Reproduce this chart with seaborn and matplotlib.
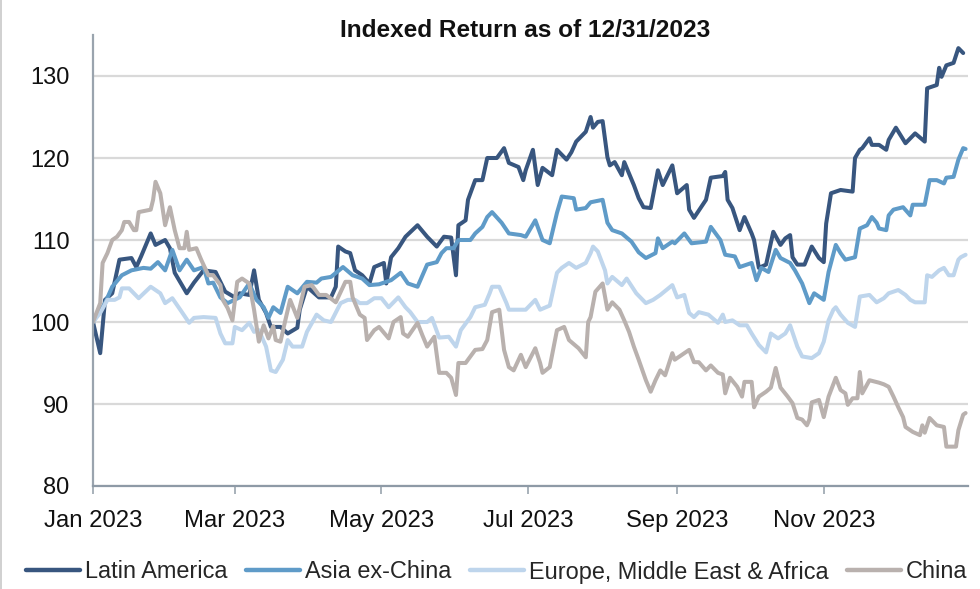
import numpy as np
import pandas as pd
import matplotlib
matplotlib.use("Agg")
import matplotlib.pyplot as plt
import seaborn as sns

# ---------------- data (days since 2023-01-01, indexed value) ----------------
series_names = ["Latin America", "Asia ex-China", "Europe, Middle East & Africa", "China"]

latam_day = [0, 3, 5, 8, 11, 16, 18, 20, 24, 26, 30, 32, 34, 39, 42, 46, 51, 55, 59,
             61, 65, 67, 69, 72, 74, 78, 81, 85, 86, 89, 94, 99, 101, 102, 105, 107, 109, 112, 115, 117,
             121, 122, 124, 127, 130, 135, 139, 143, 146, 149, 151, 152, 155, 156, 159, 162, 164, 168,
             171, 173, 177, 179, 180, 183, 185, 187, 191, 193, 197, 199, 201, 205, 207, 208, 210, 212,
             214, 215, 217, 220, 221, 225, 227, 229, 232, 235, 237, 241, 243, 247, 248, 250, 255, 257,
             262, 263, 264, 266, 269, 271, 274, 275, 277, 280, 283, 286, 288, 290, 291, 293, 296, 299,
             302, 304, 305, 307, 311, 316, 317, 319, 320, 323, 324, 327, 330, 331, 334, 338, 342, 346,
             347, 351, 352, 353, 355, 358, 360, 362]
latam_val = [100.0, 96.2, 102.7, 103.5, 107.6, 107.8, 106.7, 108.0, 110.8, 109.4, 110.0, 109.0, 106.0,
             103.5, 104.8, 106.3, 106.1, 103.7, 103.0,
             103.5, 103.3, 106.3, 102.7, 101.1, 99.4, 99.4, 98.6, 99.3, 101.5, 104.3, 103.0, 103.0, 104.3,
             109.2, 108.6, 108.4, 106.3, 105.7, 104.7, 106.7,
             107.2, 104.7, 107.9, 109.0, 110.4, 111.8, 110.4, 109.2, 110.4, 110.3, 105.7, 111.8, 112.4,
             114.9, 117.3, 117.3, 120.0, 120.0,
             121.2, 119.4, 118.9, 117.3, 118.5, 121.0, 116.7, 118.8, 117.9, 121.0, 119.8, 120.7, 122.0,
             123.2, 125.0, 123.7, 124.4, 124.5,
             120.1, 119.1, 119.5, 117.9, 119.5, 116.7, 115.1, 114.0, 113.9, 118.5, 116.7, 119.1, 115.7,
             116.7, 113.7, 112.7, 114.9, 117.6,
             117.8, 118.3, 114.9, 113.9, 111.2, 112.8, 110.8, 110.0, 106.6, 107.0, 111.0, 109.4, 110.2,
             110.6, 107.9, 107.0, 107.0, 109.2,
             107.8, 107.3, 112.0, 115.7, 116.1, 115.9, 120.0, 121.0, 121.2, 122.4, 121.6, 121.6, 121.0,
             122.2, 123.7, 121.8, 123.0, 122.0,
             128.5, 128.9, 131.0, 129.9, 131.3, 131.6, 133.4, 132.8]

asia_day = [0, 5, 8, 12, 16, 21, 24, 27, 30, 33, 36, 39, 42, 46, 48, 50, 53, 56, 61, 65, 68, 71, 73,
            75, 78, 81, 85, 89, 93, 95, 99, 104, 108, 112, 115, 119, 124, 128, 131, 135, 139, 143, 145,
            147, 150, 152, 157, 159, 162, 164, 166, 170, 173, 178, 180, 184, 187, 190, 193, 195, 200,
            201, 205, 207, 212, 214, 216, 220, 224, 227, 230, 234, 235, 237, 241, 242, 246, 249, 255,
            257, 261, 263, 267, 269, 274, 276, 278, 281, 284, 286, 290, 292, 295, 298, 300, 303, 304,
            306, 309, 311, 313, 317, 319, 322, 324, 326, 327, 330, 331, 333, 337, 340, 341, 346, 348,
            351, 354, 355, 358, 360, 362, 363]
asia_val = [100.0, 102.3, 104.3, 105.7, 106.3, 106.6, 106.5, 107.3, 106.3, 108.8, 106.3, 107.6, 106.3,
            106.7, 104.7, 104.8, 103.0, 102.3, 103.0, 104.7, 102.7, 101.8, 100.5,
            101.8, 101.1, 104.3, 103.5, 104.9, 104.8, 105.3, 105.5, 106.7, 105.7, 105.3, 104.5, 104.6,
            105.1, 106.0, 104.7, 104.3, 107.0, 107.3, 108.4,
            109.0, 109.0, 110.0, 110.0, 110.8, 111.6, 112.8, 113.4, 112.1, 110.8, 110.6, 110.4, 112.4,
            110.0, 109.6, 113.3, 115.3, 115.1,
            113.7, 113.9, 114.6, 114.9, 112.1, 111.2, 110.8, 109.8, 108.5, 107.8, 108.4, 110.2, 109.0,
            109.8, 109.6, 110.8, 109.6, 109.8,
            111.6, 110.0, 108.2, 108.0, 106.7, 107.2, 105.1, 106.6, 106.1, 108.8, 107.8, 107.2, 106.3,
            104.7, 102.3, 103.5, 102.9, 102.7,
            106.1, 109.4, 108.4, 107.6, 107.9, 111.4, 111.8, 112.8, 112.1, 111.4, 111.2, 113.0, 113.7,
            114.0, 113.0, 114.3, 114.3, 117.3,
            117.3, 116.9, 117.6, 117.7, 119.8, 121.2, 121.1]

emea_day = [0, 3, 6, 9, 11, 12, 15, 19, 24, 28, 30, 33, 37, 40, 42, 46, 51, 53, 55, 58, 59, 62, 65,
            67, 69, 72, 74, 76, 79, 81, 83, 87, 89, 93, 96, 99, 103, 106, 109, 111, 114, 117, 120, 123,
            127, 130, 132, 135, 139, 141, 144, 148, 151, 153, 157, 159, 163, 165, 166, 169, 172, 173,
            180, 184, 186, 190, 193, 195, 198, 201, 205, 207, 208, 210, 213, 214, 216, 220, 222, 226,
            230, 233, 236, 241, 243, 246, 248, 250, 252, 256, 260, 262, 263, 266, 269, 272, 274, 277,
            280, 282, 285, 288, 290, 293, 295, 299, 302, 304, 306, 308, 309, 311, 314, 317, 319, 323,
            326, 329, 331, 335, 338, 340, 342, 346, 347, 349, 352, 354, 356, 358, 360, 361, 363]
emea_val = [100.0, 101.1, 102.7, 102.7, 103.0, 104.1, 104.1, 102.9, 104.3, 103.5, 102.3, 102.9, 101.2,
            99.9, 100.5, 100.6, 100.5, 98.6, 97.4, 97.4, 99.4, 99.0, 99.9,
            98.8, 99.0, 97.0, 94.1, 93.9, 95.4, 97.8, 97.0, 97.0, 98.8, 100.9, 100.2, 100.0, 102.3, 102.7,
            102.7, 102.3, 102.3, 102.9, 102.9, 101.8,
            103.0, 101.8, 101.2, 100.0, 100.0, 100.5, 98.1, 98.2, 97.0, 99.0, 100.6, 101.8, 102.1, 103.5,
            104.3, 104.3, 102.3, 101.5,
            101.5, 102.7, 101.5, 102.0, 106.0, 106.6, 107.2, 106.6, 107.2, 108.4, 109.2, 108.6, 106.3,
            104.7, 105.5, 104.5, 105.3, 103.5,
            102.3, 102.7, 103.3, 104.5, 103.0, 103.3, 101.1, 100.6, 101.2, 100.9, 99.9, 100.9, 100.0,
            100.2, 99.6, 99.6, 98.6, 97.2,
            96.3, 98.6, 98.0, 98.6, 99.6, 97.0, 95.8, 95.6, 96.2, 97.6, 100.2, 101.5, 101.8, 100.9, 99.9,
            99.4, 103.1, 103.3,
            102.4, 102.9, 103.5, 103.9, 103.3, 102.7, 102.4, 102.4, 105.7, 105.5, 106.3, 106.6, 105.7,
            105.7, 107.6, 107.9, 108.2]

china_day = [0, 3, 4, 6, 8, 10, 12, 13, 15, 17, 18, 19, 24, 25, 26, 28, 30, 32, 34, 36, 38, 39, 40,
             43, 45, 48, 50, 53, 54, 56, 58, 60, 62, 65, 67, 69, 71, 73, 75, 76, 78, 80, 82, 85, 88, 91,
             94, 97, 101, 105, 107, 108, 111, 113, 114, 117, 119, 123, 125, 128, 129, 131, 135, 137,
             139, 142, 144, 147, 149, 151, 152, 155, 159, 162, 164, 166, 169, 171, 173, 175, 178, 180,
             184, 186, 187, 190, 193, 196, 198, 202, 205, 206, 207, 209, 212, 214, 216, 219, 221, 223,
             225, 227, 230, 232, 234, 236, 238, 241, 242, 244, 248, 250, 252, 255, 257, 260, 262, 263,
             265, 268, 270, 271, 274, 275, 277, 280, 282, 284, 286, 289, 291, 293, 295, 297, 298, 299,
             302, 304, 306, 309, 311, 313, 314, 316, 318, 319, 320, 323, 327, 329, 331, 333, 335, 337,
             338, 341, 344, 345, 346, 348, 351, 354, 355, 359, 360, 362, 363]
china_val = [100.0, 102.3, 107.2, 108.4, 110.0, 110.4, 111.2, 112.2, 112.2, 111.2, 111.2, 113.4, 113.7,
             114.9, 117.1, 115.7, 111.8, 114.0, 111.2, 109.0, 109.0, 111.0, 108.8,
             109.0, 107.6, 105.7, 105.7, 104.5, 102.7, 101.7, 100.2, 104.9, 105.3, 104.7, 101.5, 97.6,
             99.6, 98.0, 99.5, 97.8, 97.6, 100.2, 102.7, 100.5, 104.3, 104.5,
             103.3, 103.3, 102.4, 104.9, 104.9, 103.0, 100.9, 100.5, 97.8, 99.0, 99.4, 98.0, 100.0, 100.6,
             98.6, 98.2, 99.9, 98.4,
             97.0, 98.2, 93.8, 93.8, 93.2, 91.1, 95.0, 95.0, 96.6, 96.7, 97.8, 101.2, 101.5, 96.6, 94.5,
             94.1, 96.0, 94.5,
             96.8, 95.0, 93.8, 94.5, 99.0, 99.4, 97.8, 96.8, 95.7, 100.0, 100.6, 103.7, 104.7, 101.5,
             102.4, 101.5, 100.2, 98.8,
             97.0, 95.4, 92.9, 91.5, 92.9, 94.1, 93.5, 96.2, 95.4, 95.8, 96.6, 95.1, 95.1, 94.1, 94.7,
             93.8, 93.6, 91.3,
             93.2, 92.1, 90.9, 92.7, 92.7, 89.6, 90.9, 91.5, 92.0, 94.4, 92.0, 90.9, 90.1, 88.3, 88.1,
             87.4, 88.1, 90.2,
             90.5, 88.4, 90.9, 93.2, 91.7, 91.3, 89.9, 90.7, 90.7, 93.9, 91.3, 92.9, 92.6, 92.4, 92.1,
             90.9, 89.6, 88.4,
             87.2, 86.6, 86.2, 87.4, 86.5, 88.3, 87.4, 87.2, 84.8, 84.8, 86.8, 88.7, 88.9]

y_ticks = [80, 90, 100, 110, 120, 130]
x_tick_labels = ["Jan 2023", "Mar 2023", "May 2023", "Jul 2023", "Sep 2023", "Nov 2023"]
title_text = "Indexed Return as of 12/31/2023"

colors = ["#38567f", "#5f9bc8", "#bed5ec", "#b9b1ae"]

# ---------------- build long-form table ----------------
start = pd.Timestamp("2023-01-01")
frames = []
for name, d, v in zip(series_names,
                      [latam_day, asia_day, emea_day, china_day],
                      [latam_val, asia_val, emea_val, china_val]):
    frames.append(pd.DataFrame({
        "date": start + pd.to_timedelta(np.array(d), unit="D"),
        "value": v,
        "series": name,
    }))
df = pd.concat(frames, ignore_index=True)

# ---------------- plotting ----------------
sns.set_style("white")
plt.rcParams["font.family"] = ["Liberation Sans", "DejaVu Sans"]

fig = plt.figure(figsize=(9.8, 5.89), dpi=100)
W, H = 980, 589
ax = fig.add_axes([93 / W, 1 - 486 / H, (968 - 93) / W, (486 - 35) / H])

sns.lineplot(data=df, x="date", y="value", hue="series", hue_order=series_names,
             palette=dict(zip(series_names, colors)), linewidth=2.9, ax=ax,
             legend=False, sort=False, estimator=None)

ax.set_xlim(pd.Timestamp("2023-01-01"), pd.Timestamp("2023-12-31"))
ax.set_ylim(80, 135)
ax.set_yticks(y_ticks)
ax.set_yticklabels([str(t) for t in y_ticks])
tick_dates = [pd.Timestamp(f"2023-{m:02d}-01") for m in (1, 3, 5, 7, 9, 11)]
ax.set_xticks(tick_dates)
ax.set_xticklabels(x_tick_labels)
ax.set_xlabel("")
ax.set_ylabel("")

ax.grid(axis="y", color="#d9d9d9", linewidth=1.6)
ax.grid(axis="x", visible=False)
ax.set_axisbelow(True)

for s in ["top", "right"]:
    ax.spines[s].set_visible(False)
ax.spines["left"].set_color("#9aa4ae")
ax.spines["left"].set_linewidth(1.6)
ax.spines["bottom"].set_color("#8e9aa6")
ax.spines["bottom"].set_linewidth(1.6)
ax.spines["bottom"].set_zorder(3)

ax.tick_params(axis="y", length=0, pad=17, labelsize=17, labelcolor="#111111")
ax.tick_params(axis="x", length=6, width=1.2, color="#9aa4ae", direction="out",
               pad=11, labelsize=17.2, labelcolor="#111111", bottom=True)

fig.text(525 / W, 1 - 37 / H, title_text, ha="center", va="baseline",
         fontsize=17.6, fontweight="bold", color="#111111")

handles = [plt.Line2D([0], [0], color=c, linewidth=3.2) for c in colors]
fig.legend(handles, series_names, loc="center", bbox_to_anchor=(497 / W, 1 - 572 / H),
           ncol=4, frameon=False, fontsize=16.9, handlelength=2.3, handletextpad=0.2,
           columnspacing=0.8, borderaxespad=0, borderpad=0)

# thin frame line on the left edge of the image
fig.add_artist(plt.Line2D([0.001, 0.001], [0, 1], transform=fig.transFigure,
                          color="#c8c8c8", linewidth=1.2))

fig.savefig("out.png", dpi=100)
